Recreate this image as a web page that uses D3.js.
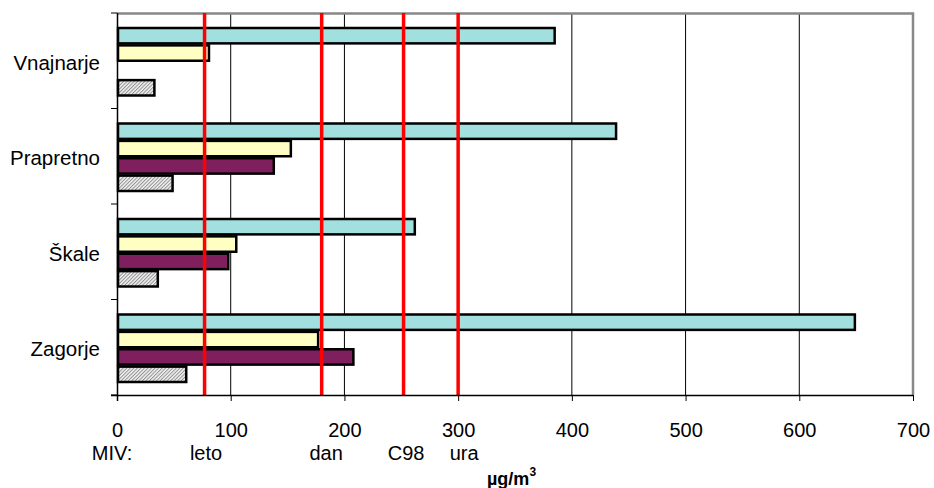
<!DOCTYPE html>
<html>
<head>
<meta charset="utf-8">
<script src="https://cdn.jsdelivr.net/npm/d3@7"></script>
<style>
  body { margin: 0; background: #fff; }
  text { font-family: "Liberation Sans", Arial, sans-serif; }
</style>
</head>
<body>
<div id="chart"></div>
<script>
const categories = ['Vnajnarje', 'Prapretno', 'Škale', 'Zagorje'];
const seriesNames = ['s1', 's2', 's3', 's4'];
const seriesValues = [
  [384, 438, 261, 648],   // cyan
  [80, 152, 104, 176],    // yellow
  [0, 137, 97, 207],      // purple
  [32, 48, 35, 60]        // hatched
];
const limitValues = [77, 180, 252, 300];
const limitLabels = ['leto', 'dan', 'C98', 'ura'];
const xTicks = [0, 100, 200, 300, 400, 500, 600, 700];

const width = 934, height = 488;
const margin = { top: 13, right: 21, bottom: 93, left: 117 };
const plotWidth = width - margin.left - margin.right;
const plotHeight = height - margin.top - margin.bottom;

const svg = d3.select('#chart').append('svg')
  .attr('width', width)
  .attr('height', height);

const defs = svg.append('defs');
const pat = defs.append('pattern')
  .attr('id', 'hatch')
  .attr('patternUnits', 'userSpaceOnUse')
  .attr('width', 2.5).attr('height', 2.5)
  .attr('patternTransform', 'rotate(45)');
pat.append('rect').attr('width', 2.5).attr('height', 2.5).attr('fill', '#f2f2f2');
pat.append('rect').attr('width', 1).attr('height', 2.5).attr('fill', '#909090');

const g = svg.append('g')
  .attr('transform', `translate(${margin.left},${margin.top})`);

const x = d3.scaleLinear().domain([0, 700]).range([0, plotWidth]);
const y = d3.scaleBand().domain(categories).range([0, plotHeight]).paddingInner(0).paddingOuter(0);
const ySub = d3.scaleBand().domain(seriesNames).range([14, y.bandwidth() - 12]).padding(0);

// gridlines
g.append('g')
  .selectAll('line')
  .data(xTicks.slice(1, -1))
  .join('line')
  .attr('x1', d => x(d)).attr('x2', d => x(d))
  .attr('y1', 0).attr('y2', plotHeight)
  .attr('stroke', '#000').attr('stroke-width', 1);

// plot border top and right
g.append('path')
  .attr('d', `M0,0.5H${plotWidth}V${plotHeight}`)
  .attr('fill', 'none')
  .attr('stroke', '#888')
  .attr('stroke-width', 2.5);

const colors = ['#a2dfdf', '#ffffc3', '#801f5e', 'url(#hatch)'];

const rows = [];
categories.forEach((c, i) => {
  seriesNames.forEach((s, j) => {
    rows.push({ cat: c, s, v: seriesValues[j][i], color: colors[j] });
  });
});

g.append('g')
  .selectAll('rect')
  .data(rows.filter(d => d.v > 0))
  .join('rect')
  .attr('x', x(0) + 1)
  .attr('y', d => y(d.cat) + ySub(d.s) + 1)
  .attr('width', d => x(d.v) - x(0))
  .attr('height', ySub.bandwidth() - 2)
  .attr('fill', d => d.color)
  .attr('stroke', '#000')
  .attr('stroke-width', 2.5);

// limit lines
g.append('g')
  .selectAll('line')
  .data(limitValues)
  .join('line')
  .attr('x1', d => x(d)).attr('x2', d => x(d))
  .attr('y1', 0).attr('y2', plotHeight)
  .attr('stroke', '#ff0000').attr('stroke-width', 3.5);

// axes
const xAxis = d3.axisBottom(x).tickValues(xTicks).tickSize(6).tickPadding(22);
const xg = g.append('g')
  .attr('transform', `translate(0,${plotHeight})`)
  .call(xAxis);
xg.select('.domain').attr('stroke', '#000').attr('stroke-width', 1.5)
  .attr('d', `M-6,0.5H${plotWidth}`);
xg.selectAll('.tick line').attr('stroke', '#000');
xg.selectAll('.tick text').attr('font-size', 20).attr('fill', '#000');

const yAxis = d3.axisLeft(y).tickSize(0).tickPadding(17);
const yg = g.append('g').call(yAxis);
yg.select('.domain').attr('stroke', '#000').attr('stroke-width', 1.5)
  .attr('d', `M0.5,0V${plotHeight + 6}`);
yg.selectAll('.tick text').attr('font-size', 20.5).attr('fill', '#000').attr('dy', '0.45em');

// category boundary ticks
g.append('g')
  .selectAll('line')
  .data(categories.concat(['end']))
  .join('line')
  .attr('x1', -6).attr('x2', 0)
  .attr('y1', (d, i) => i * y.bandwidth())
  .attr('y2', (d, i) => i * y.bandwidth())
  .attr('stroke', '#000');

// limit labels
const lab = g.append('g').attr('font-size', 20).attr('fill', '#000');
lab.append('text')
  .attr('x', x(0) - 5).attr('y', plotHeight + 65)
  .attr('text-anchor', 'middle')
  .text('MIV:');
lab.selectAll('text.lim')
  .data(limitLabels)
  .join('text')
  .attr('class', 'lim')
  .attr('x', (d, i) => x(limitValues[i]) + [1.5, 4.5, 2.5, 6][i])
  .attr('y', plotHeight + 65)
  .attr('text-anchor', 'middle')
  .text(d => d);

// unit label
const unit = g.append('text')
  .attr('x', 370)
  .attr('y', plotHeight + 90)
  .attr('font-size', 18)
  .attr('font-weight', 'bold')
  .attr('fill', '#000');
unit.append('tspan').text('µg/m');
unit.append('tspan').attr('font-size', 12).attr('dy', -9).text('3');
</script>
</body>
</html>
